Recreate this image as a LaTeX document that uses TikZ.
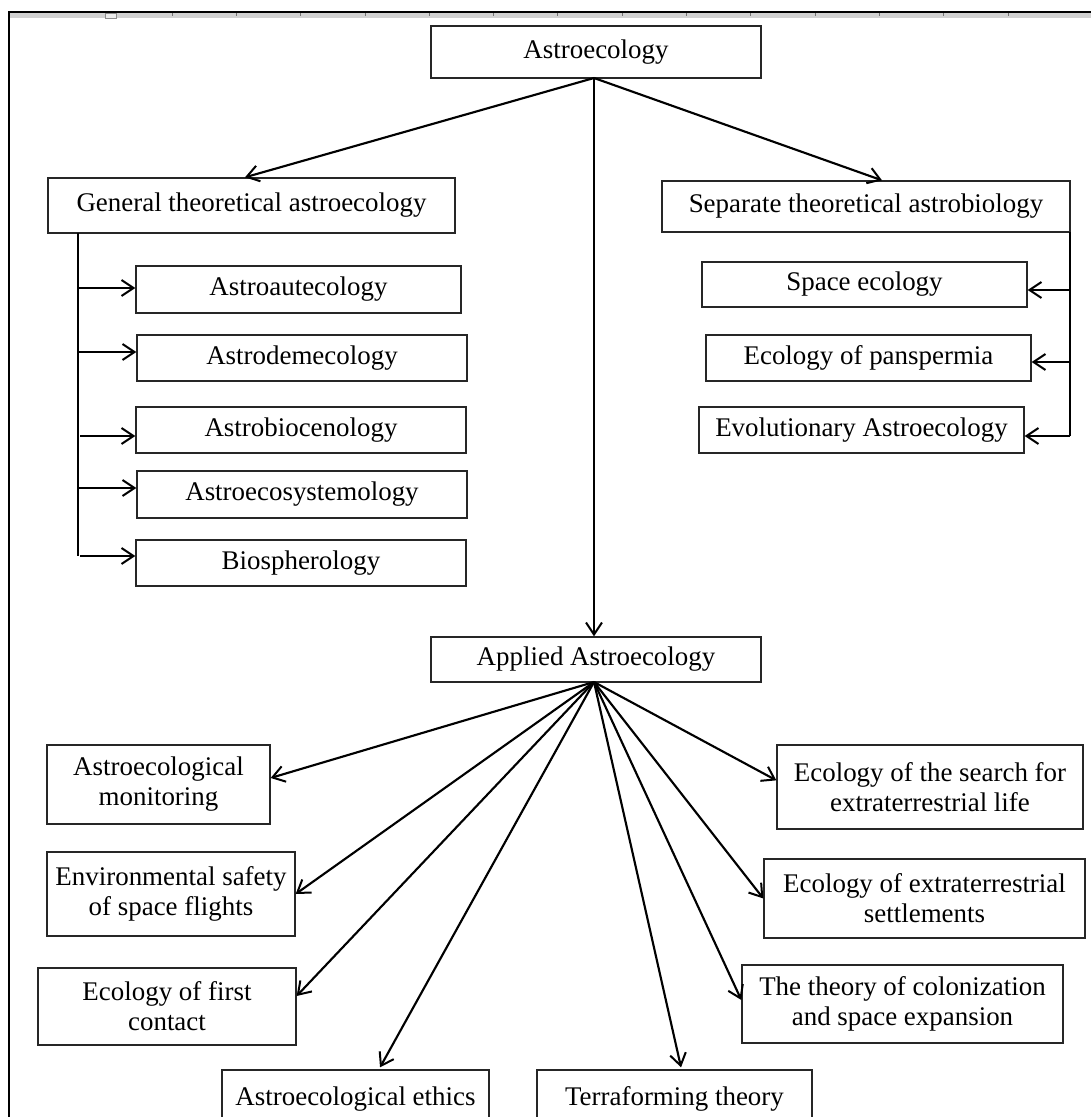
\documentclass[tikz,border=0pt]{standalone}
\usepackage{fontspec}
\setmainfont{Liberation Serif}
\usetikzlibrary{arrows.meta}
\begin{document}
\begin{tikzpicture}[x=0.75pt,y=-0.75pt,
  box/.style={draw=black!85, line width=1pt, inner sep=0pt, align=center,
    font=\fontsize{20.2}{22.5}\selectfont},
  conn/.style={line width=1.6pt, -{Straight Barb[length=9pt,width=12pt,line width=1.5pt]}},
  trunk/.style={line width=1.6pt},
  frame/.style={line width=1.6pt}
]
\useasboundingbox (0,0) rectangle (1091,1117);
\clip (0,0) rectangle (1091,1117);
% page frame and ruler
\fill[black!18] (10,12) rectangle (1091,18);
\foreach \k in {0,...,13} {\draw[black!55, line width=0.6pt] ({172+64.3*\k},13) -- ({172+64.3*\k},15.5);}
\draw[black!45, fill=black!8, line width=0.5pt] (105,13) rectangle (116,18);
\draw[frame] (9,1117) -- (9,12) -- (1091,12);

% nodes
\node[box, minimum width=330*0.75pt, minimum height=52*0.75pt] (astro) at (596,52) {Astroecology};
\node[box, minimum width=407*0.75pt, minimum height=55*0.75pt] (gen) at (251.5,205.5) {General theoretical astroecology};
\node[box, minimum width=408*0.75pt, minimum height=51*0.75pt] (sep) at (866,206.5) {Separate theoretical astrobiology};

\node[box, minimum width=325*0.75pt, minimum height=47*0.75pt] (aut) at (298.5,289.5) {Astroautecology};
\node[box, minimum width=330*0.75pt, minimum height=46*0.75pt] (dem) at (302,358) {Astrodemecology};
\node[box, minimum width=330*0.75pt, minimum height=46*0.75pt] (bio) at (301,430) {Astrobiocenology};
\node[box, minimum width=330*0.75pt, minimum height=47*0.75pt] (eco) at (302,494.5) {Astroecosystemology};
\node[box, minimum width=330*0.75pt, minimum height=46*0.75pt] (sph) at (301,563) {Biospherology};

\node[box, minimum width=325*0.75pt, minimum height=45*0.75pt] (space) at (864.5,284.5) {Space ecology};
\node[box, minimum width=325*0.75pt, minimum height=46*0.75pt] (pan) at (868.5,358) {Ecology of panspermia};
\node[box, minimum width=325*0.75pt, minimum height=46*0.75pt] (evo) at (861.5,430) {Evolutionary Astroecology};

\node[box, minimum width=330*0.75pt, minimum height=45*0.75pt] (app) at (596,659.5) {Applied Astroecology};

\node[box, minimum width=223*0.75pt, minimum height=79*0.75pt] (mon) at (158.5,784.5) {Astroecological\\monitoring};
\node[box, minimum width=248*0.75pt, minimum height=84*0.75pt] (env) at (171,894) {Environmental safety\\of space flights};
\node[box, minimum width=258*0.75pt, minimum height=77*0.75pt] (first) at (167,1006.5) {Ecology of first\\contact};
\node[box, minimum width=267*0.75pt, minimum height=58*0.75pt] (eth) at (355.5,1099) {Astroecological ethics};
\node[box, minimum width=275*0.75pt, minimum height=58*0.75pt] (ter) at (674.5,1099) {Terraforming theory};
\node[box, minimum width=321*0.75pt, minimum height=78*0.75pt] (col) at (902.5,1004) {The theory of colonization\\and space expansion};
\node[box, minimum width=321*0.75pt, minimum height=79*0.75pt] (set) at (924.5,898.5) {Ecology of extraterrestrial\\settlements};
\node[box, minimum width=306*0.75pt, minimum height=84*0.75pt] (search) at (930,787) {Ecology of the search for\\extraterrestrial life};

% top connectors
\coordinate (asb) at (594,78);
\draw[conn] (asb) -- ([xshift=-4.9pt]gen.north);
\draw[conn] (asb) -- ([xshift=12pt]sep.north);
\draw[conn] (asb) -- (asb |- app.north);

% left tree
\coordinate (lt) at (78,233);
\coordinate (lb) at (78,556);
\draw[trunk] (lt) -- (lb);
\coordinate (l1) at (78,288);
\coordinate (l2) at (78,352);
\coordinate (l3) at (80,436);
\coordinate (l4) at (78,488);
\coordinate (l5) at (80,556);
\draw[conn] (l1) -- (l1 -| aut.west);
\draw[conn] (l2) -- (l2 -| dem.west);
\draw[conn] (l3) -- (l3 -| bio.west);
\draw[conn] (l4) -- (l4 -| eco.west);
\draw[conn] (l5) -- (l5 -| sph.west);

% right tree
\coordinate (rt) at (1070,232);
\coordinate (rb) at (1070,436);
\draw[trunk] (rt) -- (rb);
\coordinate (r1) at (1070,290);
\coordinate (r2) at (1070,362);
\coordinate (r3) at (1070,436);
\draw[conn] (r1) -- (r1 -| space.east);
\draw[conn] (r2) -- (r2 -| pan.east);
\draw[conn] (r3) -- (r3 -| evo.east);

% applied connectors
\coordinate (apb) at (594,682);
\draw[conn] (apb) -- ([yshift=4.9pt]mon.east);
\draw[conn] (apb) -- (env.east);
\draw[conn] (apb) -- ([yshift=7.9pt]first.east);
\draw[conn] (apb) -- ([xshift=18.4pt,yshift=1.5pt]eth.north);
\draw[conn] (apb) -- ([xshift=4.9pt,yshift=1.5pt]ter.north);
\draw[conn] (apb) -- ([yshift=3pt]col.west);
\draw[conn] (apb) -- (set.west);
\draw[conn] (apb) -- ([yshift=5pt]search.west);
\end{tikzpicture}
\end{document}
